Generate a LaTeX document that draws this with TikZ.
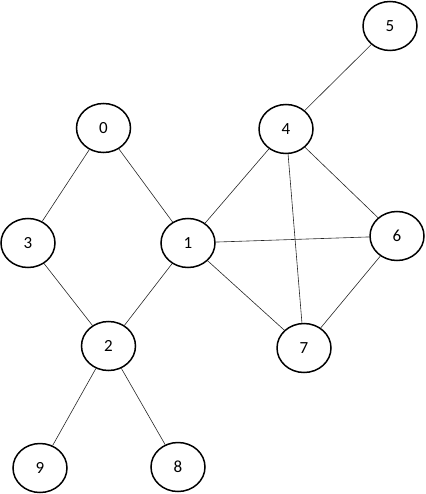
\documentclass[tikz,border=0pt]{standalone}
\usepackage{fontspec}
\setmainfont{Carlito}
\usetikzlibrary{shapes.geometric}
\begin{document}
\begin{tikzpicture}[x=1pt,y=-1pt,
  vtx/.style={ellipse,draw,line width=1.5pt,minimum width=54pt,minimum height=49pt,inner sep=0pt,font=\fontsize{17}{20}\selectfont},
  edge/.style={line width=0.6pt,draw=black!85}]
\useasboundingbox (0,0) rectangle (425,494);
\node[vtx] (n0) at (103.5,128) {0};
\node[vtx] (n1) at (188,243) {1};
\node[vtx] (n2) at (108.5,346) {2};
\node[vtx] (n3) at (28,243) {3};
\node[vtx] (n4) at (286,129) {4};
\node[vtx] (n5) at (390,26) {5};
\node[vtx] (n6) at (397,236) {6};
\node[vtx] (n7) at (304,348) {7};
\node[vtx] (n8) at (178,467) {8};
\node[vtx] (n9) at (40,468) {9};
\draw[edge] (n0) -- (n3);
\draw[edge] (n0) -- (n1);
\draw[edge] (n3) -- (n2);
\draw[edge] (n1) -- (n2);
\draw[edge] (n1) -- (n4);
\draw[edge] (n1) -- (n6);
\draw[edge] (n1) -- (n7);
\draw[edge] (n4) -- (n5);
\draw[edge] (n4) -- (n6);
\draw[edge] (n4) -- (n7);
\draw[edge] (n6) -- (n7);
\draw[edge] (n2) -- (n9);
\draw[edge] (n2) -- (n8);
\end{tikzpicture}
\end{document}
